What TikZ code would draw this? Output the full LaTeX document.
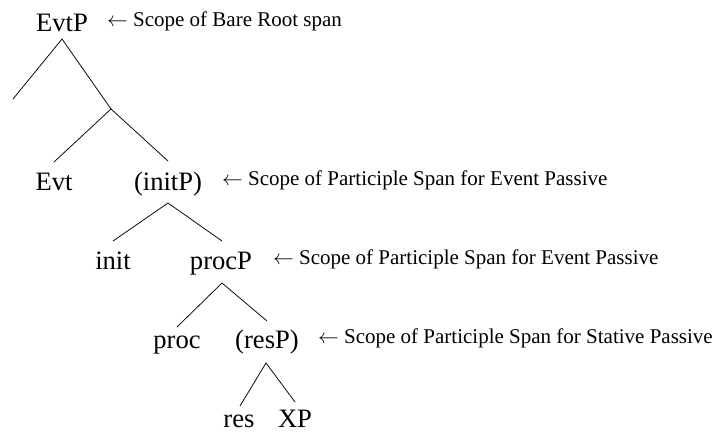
\documentclass[tikz,border=0pt]{standalone}
\usepackage{fontspec}
\setmainfont{Liberation Serif}
\begin{document}
\begin{tikzpicture}[x=1pt,y=-1pt]
\tikzset{
  cat/.style={inner sep=0pt, anchor=base, font=\fontsize{26.6}{30}\selectfont},
  note/.style={inner sep=0pt, anchor=base west, font=\fontsize{21}{25}\selectfont},
  branch/.style={line width=0.75pt}
}
\useasboundingbox (0,0) rectangle (715,432);
% category nodes
\node[cat] (EvtP)  at (62,31)  {EvtP};
\node[cat] (Evt)   at (54,190) {Evt};
\node[cat] (initP) at (168,190) {(initP)};
\node[cat] (init)  at (113,269) {init};
\node[cat] (procP) at (221,269) {procP};
\node[cat] (proc)  at (177,348) {proc};
\node[cat] (resP)  at (267,348) {(resP)};
\node[cat] (res)   at (239,427) {res};
\node[cat] (XP)    at (295,427) {XP};
% annotations
\node[note] (L0) at (107,26)  {$\leftarrow$ Scope of Bare Root span};
\node[note] (L1) at (222,185) {$\leftarrow$ Scope of Participle Span for Event Passive};
\node[note] (L2) at (273,264) {$\leftarrow$ Scope of Participle Span for Event Passive};
\node[note] (L3) at (318,343) {$\leftarrow$ Scope of Participle Span for Stative Passive};
% branch points
\coordinate (EvtPs)  at (62,39);
\coordinate (E0)     at (13,99);
\coordinate (X1)     at (111,109);
\coordinate (Evtn)   at (54,162);
\coordinate (initPn) at (168,161);
\coordinate (initPs) at (168,203);
\coordinate (initn)  at (113,241);
\coordinate (procPn) at (222,241);
\coordinate (procPs) at (222,283);
\coordinate (procn)  at (177,327);
\coordinate (resPn)  at (267,321);
\coordinate (resPs)  at (266,363);
\coordinate (resn)   at (240,406);
\coordinate (XPn)    at (295,402);
% branches
\draw[branch] (E0) -- (EvtPs) -- (X1);
\draw[branch] (Evtn) -- (X1) -- (initPn);
\draw[branch] (initn) -- (initPs) -- (procPn);
\draw[branch] (procn) -- (procPs) -- (resPn);
\draw[branch] (resn) -- (resPs) -- (XPn);
\end{tikzpicture}
\end{document}
